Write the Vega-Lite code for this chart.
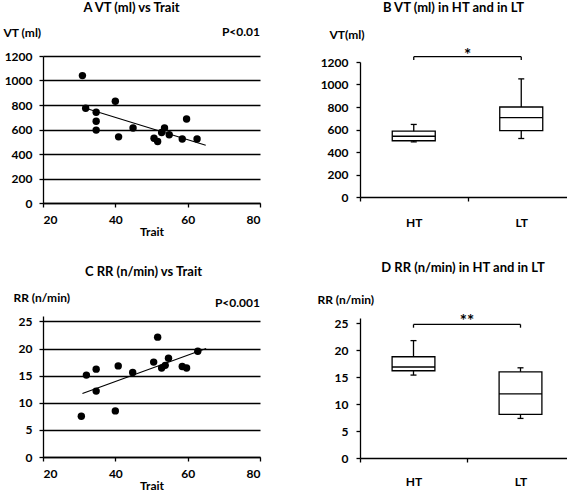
{
  "$schema": "https://vega.github.io/schema/vega-lite/v6.json",
  "padding": {"left": 3, "top": 2, "right": 0, "bottom": 0},
  "background": "white",
  "spacing": 56,
  "datasets": {
    "vt": [
      {"trait": 30.9, "vt": 1040}, {"trait": 31.8, "vt": 774}, {"trait": 34.7, "vt": 741},
      {"trait": 34.7, "vt": 668}, {"trait": 34.7, "vt": 595}, {"trait": 40, "vt": 830},
      {"trait": 40.9, "vt": 540}, {"trait": 44.9, "vt": 612}, {"trait": 50.7, "vt": 529},
      {"trait": 51.7, "vt": 502}, {"trait": 52.8, "vt": 576}, {"trait": 53.6, "vt": 612},
      {"trait": 54.9, "vt": 557}, {"trait": 58.5, "vt": 522}, {"trait": 59.7, "vt": 686},
      {"trait": 62.6, "vt": 522}
    ],
    "vtfit": [{"trait": 31.8, "vt": 774}, {"trait": 65, "vt": 472}],
    "rr": [
      {"trait": 30.6, "rr": 7.5}, {"trait": 32, "rr": 15.1}, {"trait": 34.7, "rr": 16.2},
      {"trait": 34.7, "rr": 12.15}, {"trait": 40, "rr": 8.5}, {"trait": 40.8, "rr": 16.8},
      {"trait": 44.8, "rr": 15.6}, {"trait": 50.6, "rr": 17.5}, {"trait": 51.7, "rr": 22.1},
      {"trait": 52.8, "rr": 16.4}, {"trait": 53.8, "rr": 16.9}, {"trait": 54.7, "rr": 18.2},
      {"trait": 58.5, "rr": 16.7}, {"trait": 59.7, "rr": 16.4}, {"trait": 62.8, "rr": 19.5}
    ],
    "rrfit": [{"trait": 30.9, "rr": 11.7}, {"trait": 65.1, "rr": 20.0}],
    "boxvt": [
      {"g": "HT", "min": 490, "q1": 500, "med": 540, "q3": 585, "max": 645},
      {"g": "LT", "min": 520, "q1": 590, "med": 705, "q3": 800, "max": 1050}
    ],
    "boxrr": [
      {"g": "HT", "min": 15.4, "q1": 16.2, "med": 16.9, "q3": 18.8, "max": 21.8},
      {"g": "LT", "min": 7.35, "q1": 8.1, "med": 11.9, "q3": 16.0, "max": 16.75}
    ]
  },
  "hconcat": [
    {
      "spacing": 29,
      "vconcat": [
        {
          "width": 217, "height": 147,
          "title": {"text": "A  VT (ml) vs Trait", "dx": -20, "offset": 11},
          "layer": [
            {
              "data": {"name": "vt"},
              "mark": {"type": "point", "filled": true, "color": "black", "size": 55, "opacity": 1},
              "encoding": {
                "x": {"field": "trait", "type": "quantitative", "scale": {"domain": [20, 80]},
                      "axis": {"title": "Trait", "values": [20, 40, 60, 80], "grid": false, "labelPadding": 7, "titlePadding": 1}},
                "y": {"field": "vt", "type": "quantitative", "scale": {"domain": [0, 1200]},
                      "axis": {"title": "VT (ml)", "values": [0, 200, 400, 600, 800, 1000, 1200], "format": "d", "labelOverlap": false, "labelPadding": 7, "grid": true, "gridColor": "black", "gridWidth": 1.3, "gridOpacity": 1,
                               "titleAngle": 0, "titleAlign": "left", "titleBaseline": "middle", "titleX": -40, "titleY": -24}}
              }
            },
            {
              "data": {"name": "vtfit"},
              "mark": {"type": "line", "color": "black", "strokeWidth": 1.1},
              "encoding": {
                "x": {"field": "trait", "type": "quantitative", "axis": {"title": "Trait", "values": [20, 40, 60, 80], "grid": false, "labelPadding": 7, "titlePadding": 1}},
                "y": {"field": "vt", "type": "quantitative",
                      "axis": {"title": "VT (ml)", "values": [0, 200, 400, 600, 800, 1000, 1200], "format": "d", "labelOverlap": false, "labelPadding": 7, "grid": true, "gridColor": "black", "gridWidth": 1.3, "gridOpacity": 1,
                               "titleAngle": 0, "titleAlign": "left", "titleBaseline": "middle", "titleX": -40, "titleY": -24}}
              }
            },
            {
              "data": {"values": [{"p": "P<0.01"}]},
              "mark": {"type": "text", "align": "right", "baseline": "middle", "dy": -24, "font": "Lato", "fontWeight": "bold", "fontSize": 12, "color": "black"},
              "encoding": {
                "x": {"datum": 80, "type": "quantitative", "axis": {"title": "Trait", "values": [20, 40, 60, 80], "grid": false, "labelPadding": 7, "titlePadding": 1}},
                "y": {"datum": 1200, "type": "quantitative",
                      "axis": {"title": "VT (ml)", "values": [0, 200, 400, 600, 800, 1000, 1200], "format": "d", "labelOverlap": false, "labelPadding": 7, "grid": true, "gridColor": "black", "gridWidth": 1.3, "gridOpacity": 1,
                               "titleAngle": 0, "titleAlign": "left", "titleBaseline": "middle", "titleX": -40, "titleY": -24}},
                "text": {"field": "p"}
              }
            }
          ]
        },
        {
          "width": 217, "height": 141,
          "title": {"text": "C  RR (n/min) vs Trait", "dx": -8, "offset": 12},
          "layer": [
            {
              "data": {"name": "rr"},
              "mark": {"type": "point", "filled": true, "color": "black", "size": 55, "opacity": 1},
              "encoding": {
                "x": {"field": "trait", "type": "quantitative", "scale": {"domain": [20, 80]},
                      "axis": {"title": "Trait", "values": [20, 40, 60, 80], "grid": false, "labelPadding": 7, "titlePadding": 1}},
                "y": {"field": "rr", "type": "quantitative", "scale": {"domain": [0, 25]},
                      "axis": {"title": "RR (n/min)", "values": [0, 5, 10, 15, 20, 25], "labelOverlap": false, "labelPadding": 7, "grid": true, "gridColor": "black", "gridWidth": 1.3, "gridOpacity": 1,
                               "titleAngle": 0, "titleAlign": "left", "titleBaseline": "middle", "titleX": -30, "titleY": -19}}
              }
            },
            {
              "data": {"name": "rrfit"},
              "mark": {"type": "line", "color": "black", "strokeWidth": 1.1},
              "encoding": {
                "x": {"field": "trait", "type": "quantitative", "axis": {"title": "Trait", "values": [20, 40, 60, 80], "grid": false, "labelPadding": 7, "titlePadding": 1}},
                "y": {"field": "rr", "type": "quantitative",
                      "axis": {"title": "RR (n/min)", "values": [0, 5, 10, 15, 20, 25], "labelOverlap": false, "labelPadding": 7, "grid": true, "gridColor": "black", "gridWidth": 1.3, "gridOpacity": 1,
                               "titleAngle": 0, "titleAlign": "left", "titleBaseline": "middle", "titleX": -30, "titleY": -19}}
              }
            },
            {
              "data": {"values": [{"p": "P<0.001"}]},
              "mark": {"type": "text", "align": "right", "baseline": "middle", "dy": -18, "font": "Lato", "fontWeight": "bold", "fontSize": 12, "color": "black"},
              "encoding": {
                "x": {"datum": 80, "type": "quantitative", "axis": {"title": "Trait", "values": [20, 40, 60, 80], "grid": false, "labelPadding": 7, "titlePadding": 1}},
                "y": {"datum": 25, "type": "quantitative",
                      "axis": {"title": "RR (n/min)", "values": [0, 5, 10, 15, 20, 25], "labelOverlap": false, "labelPadding": 7, "grid": true, "gridColor": "black", "gridWidth": 1.3, "gridOpacity": 1,
                               "titleAngle": 0, "titleAlign": "left", "titleBaseline": "middle", "titleX": -30, "titleY": -19}},
                "text": {"field": "p"}
              }
            }
          ]
        }
      ]
    },
    {
      "spacing": 34,
      "vconcat": [
        {
          "width": 215, "height": 141,
          "title": {"text": "B  VT (ml) in HT and in LT", "dx": -14, "offset": 13},
          "encoding": {
            "x": {"field": "g", "type": "nominal", "scale": {"paddingInner": 0, "paddingOuter": 0},
                  "axis": {"title": null, "labelAngle": 0, "tickBand": "extent", "tickSize": 4, "labelPadding": 16}}
          },
          "layer": [
            {
              "data": {"name": "boxvt"},
              "mark": {"type": "rule", "color": "black", "strokeWidth": 1.3},
              "encoding": {
                "y": {"field": "min", "type": "quantitative", "scale": {"domain": [0, 1200], "range": [141, 6]},
                      "axis": {"title": "VT(ml)", "values": [0, 200, 400, 600, 800, 1000, 1200], "format": "d", "labelOverlap": false, "labelPadding": 8, "grid": false,
                               "titleAngle": 0, "titleAlign": "left", "titleBaseline": "middle", "titleX": -31, "titleY": -22}},
                "y2": {"field": "max"}
              }
            },
            {
              "data": {"name": "boxvt"},
              "mark": {"type": "tick", "color": "black", "thickness": 1.3, "size": 6, "opacity": 1},
              "encoding": {"y": {"field": "max", "type": "quantitative",
                      "axis": {"title": "VT(ml)", "values": [0, 200, 400, 600, 800, 1000, 1200], "format": "d", "labelOverlap": false, "labelPadding": 8, "grid": false,
                               "titleAngle": 0, "titleAlign": "left", "titleBaseline": "middle", "titleX": -31, "titleY": -22}}}
            },
            {
              "data": {"name": "boxvt"},
              "mark": {"type": "tick", "color": "black", "thickness": 1.3, "size": 6, "opacity": 1},
              "encoding": {"y": {"field": "min", "type": "quantitative",
                      "axis": {"title": "VT(ml)", "values": [0, 200, 400, 600, 800, 1000, 1200], "format": "d", "labelOverlap": false, "labelPadding": 8, "grid": false,
                               "titleAngle": 0, "titleAlign": "left", "titleBaseline": "middle", "titleX": -31, "titleY": -22}}}
            },
            {
              "data": {"name": "boxvt"},
              "mark": {"type": "bar", "fill": "white", "stroke": "black", "strokeWidth": 1.3, "width": {"band": 0.4}},
              "encoding": {"y": {"field": "q1", "type": "quantitative",
                      "axis": {"title": "VT(ml)", "values": [0, 200, 400, 600, 800, 1000, 1200], "format": "d", "labelOverlap": false, "labelPadding": 8, "grid": false,
                               "titleAngle": 0, "titleAlign": "left", "titleBaseline": "middle", "titleX": -31, "titleY": -22}}, "y2": {"field": "q3"}}
            },
            {
              "data": {"name": "boxvt"},
              "mark": {"type": "tick", "color": "black", "thickness": 1.3, "size": 43, "opacity": 1},
              "encoding": {"y": {"field": "med", "type": "quantitative",
                      "axis": {"title": "VT(ml)", "values": [0, 200, 400, 600, 800, 1000, 1200], "format": "d", "labelOverlap": false, "labelPadding": 8, "grid": false,
                               "titleAngle": 0, "titleAlign": "left", "titleBaseline": "middle", "titleX": -31, "titleY": -22}}}
            },
            {
              "data": {"values": [{"g": "HT", "g2": "LT", "y": 1247}]},
              "mark": {"type": "rule", "color": "black", "strokeWidth": 1.3},
              "encoding": {"x2": {"field": "g2"}, "y": {"field": "y", "type": "quantitative",
                      "axis": {"title": "VT(ml)", "values": [0, 200, 400, 600, 800, 1000, 1200], "format": "d", "labelOverlap": false, "labelPadding": 8, "grid": false,
                               "titleAngle": 0, "titleAlign": "left", "titleBaseline": "middle", "titleX": -31, "titleY": -22}}}
            },
            {
              "data": {"values": [{"g": "HT", "y": 1217, "y2": 1247}, {"g": "LT", "y": 1217, "y2": 1247}]},
              "mark": {"type": "rule", "color": "black", "strokeWidth": 1.3},
              "encoding": {"y": {"field": "y", "type": "quantitative",
                      "axis": {"title": "VT(ml)", "values": [0, 200, 400, 600, 800, 1000, 1200], "format": "d", "labelOverlap": false, "labelPadding": 8, "grid": false,
                               "titleAngle": 0, "titleAlign": "left", "titleBaseline": "middle", "titleX": -31, "titleY": -22}}, "y2": {"field": "y2"}}
            },
            {
              "data": {"values": [{"g": "HT", "y": 1247, "t": "*"}]},
              "mark": {"type": "text", "baseline": "bottom", "dy": 8, "font": "Lato", "fontWeight": "bold", "fontSize": 17, "color": "black"},
              "encoding": {"x": {"field": "g", "type": "nominal", "bandPosition": 1}, "y": {"field": "y", "type": "quantitative",
                      "axis": {"title": "VT(ml)", "values": [0, 200, 400, 600, 800, 1000, 1200], "format": "d", "labelOverlap": false, "labelPadding": 8, "grid": false,
                               "titleAngle": 0, "titleAlign": "left", "titleBaseline": "middle", "titleX": -31, "titleY": -22}}, "text": {"field": "t"}}
            }
          ]
        },
        {
          "width": 214, "height": 140,
          "title": {"text": "D  RR (n/min) in HT and in LT", "dx": -4, "offset": 18},
          "encoding": {
            "x": {"field": "g", "type": "nominal", "scale": {"paddingInner": 0, "paddingOuter": 0},
                  "axis": {"title": null, "labelAngle": 0, "tickBand": "extent", "tickSize": 4, "labelPadding": 14}}
          },
          "layer": [
            {
              "data": {"name": "boxrr"},
              "mark": {"type": "rule", "color": "black", "strokeWidth": 1.3},
              "encoding": {
                "y": {"field": "min", "type": "quantitative", "scale": {"domain": [0, 25]},
                      "axis": {"title": "RR (n/min)", "values": [0, 5, 10, 15, 20, 25], "labelOverlap": false, "labelPadding": 8, "grid": false,
                               "titleAngle": 0, "titleAlign": "left", "titleBaseline": "middle", "titleX": -43, "titleY": -19}},
                "y2": {"field": "max"}
              }
            },
            {
              "data": {"name": "boxrr"},
              "mark": {"type": "tick", "color": "black", "thickness": 1.3, "size": 6, "opacity": 1},
              "encoding": {"y": {"field": "max", "type": "quantitative",
                      "axis": {"title": "RR (n/min)", "values": [0, 5, 10, 15, 20, 25], "labelOverlap": false, "labelPadding": 8, "grid": false,
                               "titleAngle": 0, "titleAlign": "left", "titleBaseline": "middle", "titleX": -43, "titleY": -19}}}
            },
            {
              "data": {"name": "boxrr"},
              "mark": {"type": "tick", "color": "black", "thickness": 1.3, "size": 6, "opacity": 1},
              "encoding": {"y": {"field": "min", "type": "quantitative",
                      "axis": {"title": "RR (n/min)", "values": [0, 5, 10, 15, 20, 25], "labelOverlap": false, "labelPadding": 8, "grid": false,
                               "titleAngle": 0, "titleAlign": "left", "titleBaseline": "middle", "titleX": -43, "titleY": -19}}}
            },
            {
              "data": {"name": "boxrr"},
              "mark": {"type": "bar", "fill": "white", "stroke": "black", "strokeWidth": 1.3, "width": {"band": 0.4}},
              "encoding": {"y": {"field": "q1", "type": "quantitative",
                      "axis": {"title": "RR (n/min)", "values": [0, 5, 10, 15, 20, 25], "labelOverlap": false, "labelPadding": 8, "grid": false,
                               "titleAngle": 0, "titleAlign": "left", "titleBaseline": "middle", "titleX": -43, "titleY": -19}}, "y2": {"field": "q3"}}
            },
            {
              "data": {"name": "boxrr"},
              "mark": {"type": "tick", "color": "black", "thickness": 1.3, "size": 43, "opacity": 1},
              "encoding": {"y": {"field": "med", "type": "quantitative",
                      "axis": {"title": "RR (n/min)", "values": [0, 5, 10, 15, 20, 25], "labelOverlap": false, "labelPadding": 8, "grid": false,
                               "titleAngle": 0, "titleAlign": "left", "titleBaseline": "middle", "titleX": -43, "titleY": -19}}}
            },
            {
              "data": {"values": [{"g": "HT", "g2": "LT", "y": 24.8}]},
              "mark": {"type": "rule", "color": "black", "strokeWidth": 1.3},
              "encoding": {"x2": {"field": "g2"}, "y": {"field": "y", "type": "quantitative",
                      "axis": {"title": "RR (n/min)", "values": [0, 5, 10, 15, 20, 25], "labelOverlap": false, "labelPadding": 8, "grid": false,
                               "titleAngle": 0, "titleAlign": "left", "titleBaseline": "middle", "titleX": -43, "titleY": -19}}}
            },
            {
              "data": {"values": [{"g": "HT", "y": 24.2, "y2": 24.8}, {"g": "LT", "y": 24.2, "y2": 24.8}]},
              "mark": {"type": "rule", "color": "black", "strokeWidth": 1.3},
              "encoding": {"y": {"field": "y", "type": "quantitative",
                      "axis": {"title": "RR (n/min)", "values": [0, 5, 10, 15, 20, 25], "labelOverlap": false, "labelPadding": 8, "grid": false,
                               "titleAngle": 0, "titleAlign": "left", "titleBaseline": "middle", "titleX": -43, "titleY": -19}}, "y2": {"field": "y2"}}
            },
            {
              "data": {"values": [{"g": "HT", "y": 24.8, "t": "**"}]},
              "mark": {"type": "text", "baseline": "bottom", "dy": 7, "font": "Lato", "fontWeight": "bold", "fontSize": 17, "color": "black"},
              "encoding": {"x": {"field": "g", "type": "nominal", "bandPosition": 1}, "y": {"field": "y", "type": "quantitative",
                      "axis": {"title": "RR (n/min)", "values": [0, 5, 10, 15, 20, 25], "labelOverlap": false, "labelPadding": 8, "grid": false,
                               "titleAngle": 0, "titleAlign": "left", "titleBaseline": "middle", "titleX": -43, "titleY": -19}}, "text": {"field": "t"}}
            }
          ]
        }
      ]
    }
  ],
  "config": {
    "view": {"stroke": null},
    "font": "Lato",
    "axis": {
      "labelFont": "Lato", "labelFontWeight": "bold", "labelFontSize": 12, "labelColor": "black",
      "titleFont": "Lato", "titleFontWeight": "bold", "titleFontSize": 12, "titleColor": "black",
      "domainColor": "black", "tickColor": "black", "domainWidth": 1.3, "tickWidth": 1.3, "tickSize": 4
    },
    "title": {"font": "Lato", "fontWeight": "bold", "fontSize": 13, "color": "black", "anchor": "middle", "frame": "group"}
  }
}
